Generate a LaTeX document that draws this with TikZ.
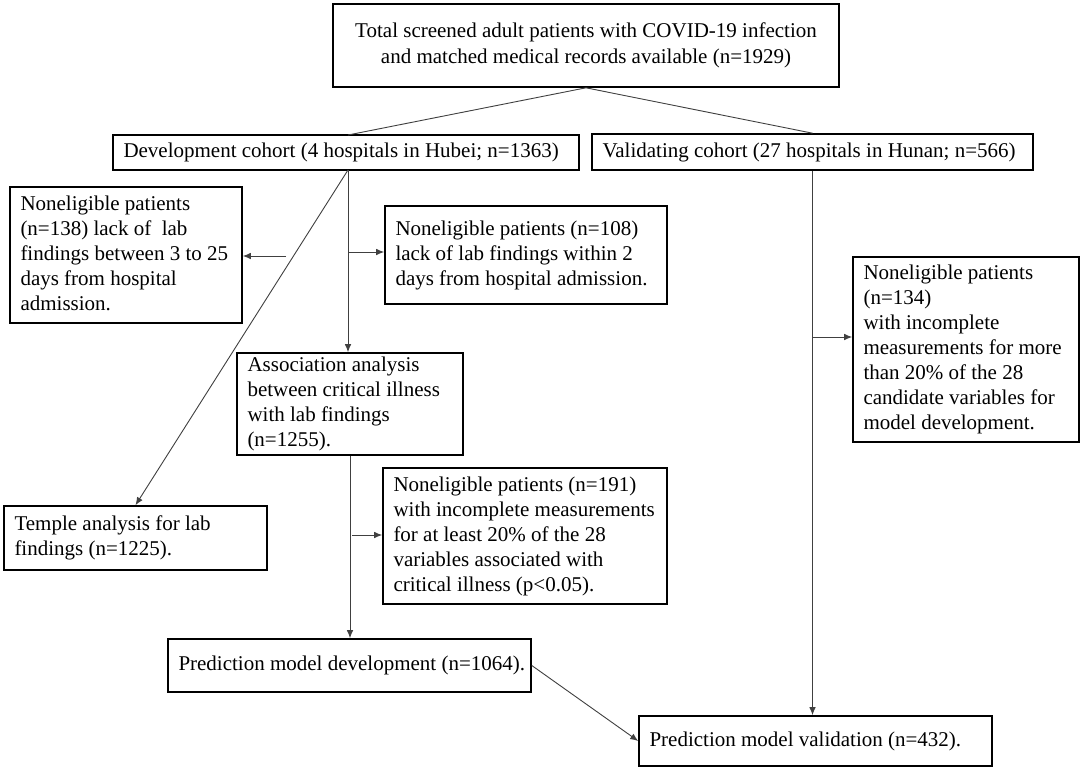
\documentclass[tikz,border=0pt]{standalone}
\usepackage{fontspec}
\setmainfont{Liberation Serif}
\usetikzlibrary{arrows.meta}
\newcommand{\bxlines}[2]{\makebox[#1][l]{\begin{tabular}{@{}l@{}}#2\end{tabular}}}
\begin{document}
\begin{tikzpicture}[x=1pt,y=-1pt,
  box/.style={draw=black, line width=1.6pt, inner sep=0pt, rectangle,
    font=\fontsize{21}{25}\selectfont},
  conn/.style={line width=0.9pt, draw=black!75},
  arr/.style={conn, -{Latex[length=8pt,width=6.5pt]}}]
\useasboundingbox (0,0) rectangle (1084,771);
\fill[white] (0,0) rectangle (1084,771);

\node[box, minimum width=506pt, minimum height=83pt] (top) at (586,45.5)
  {\begin{tabular}{@{}c@{}}Total screened adult patients with COVID-19 infection\\and matched medical records available (n=1929)\end{tabular}};
\node[box, minimum width=466pt, minimum height=35pt] (dev) at (346,152.5)
  {\bxlines{445pt}{Development cohort (4 hospitals in Hubei; n=1363)}};
\node[box, minimum width=441pt, minimum height=36pt] (val) at (812.5,152)
  {\bxlines{420pt}{Validating cohort (27 hospitals in Hunan; n=566)}};
\node[box, minimum width=232pt, minimum height=136pt] (A) at (126,255)
  {\bxlines{211pt}{Noneligible patients\\(n=138) lack of\ \ lab\\findings between 3 to 25\\days from hospital\\admission.}};
\node[box, minimum width=282pt, minimum height=98pt] (B) at (526,255)
  {\bxlines{261pt}{Noneligible patients (n=108)\\lack of lab findings within 2\\days from hospital admission.}};
\node[box, minimum width=226pt, minimum height=185pt] (C) at (966,349.5)
  {\bxlines{205pt}{Noneligible patients\\(n=134)\\with incomplete\\measurements for more\\than 20\% of the 28\\candidate variables for\\model development.}};
\node[box, minimum width=226pt, minimum height=102pt] (D) at (350,404)
  {\bxlines{205pt}{Association analysis\\between critical illness\\with lab findings\\(n=1255).}};
\node[box, minimum width=263pt, minimum height=64pt] (E) at (135.5,538)
  {\bxlines{242pt}{Temple analysis for lab\\findings (n=1225).}};
\node[box, minimum width=284pt, minimum height=136pt] (F) at (525,536)
  {\bxlines{263pt}{Noneligible patients (n=191)\\with incomplete measurements\\for at least 20\% of the 28\\variables associated with\\critical illness (p<0.05).}};
\node[box, minimum width=363pt, minimum height=53pt] (G) at (349.5,665.5)
  {\bxlines{342pt}{Prediction model development (n=1064).}};
\node[box, minimum width=353pt, minimum height=50pt] (H) at (815.5,741)
  {\bxlines{332pt}{Prediction model validation (n=432).}};

% split lines
\coordinate (devtop) at (348,135);
\draw[conn] (top.south) -- (devtop);
\draw[conn] (top.south) -- (val.north);

% development branch
\coordinate (devbot) at (348,170);
\draw[arr] (devbot) -- (devbot |- D.north);
\draw[arr] (devbot) -- (E.north);
\coordinate (bA) at (286,256);
\draw[arr] (bA) -- (bA -| A.east);
\coordinate (bB) at (349,252);
\draw[arr] (bB) -- (bB -| B.west);
\draw[arr] (D.south) -- (D.south |- G.north);
\coordinate (bF) at (352,535);
\draw[arr] (bF) -- (bF -| F.west);
\draw[arr] (G.east) -- (H.west);

% validation branch
\draw[arr] (val.south) -- (val.south |- H.north);
\coordinate (bC) at (812.5,337);
\draw[arr] (bC) -- (bC -| C.west);
\end{tikzpicture}
\end{document}
